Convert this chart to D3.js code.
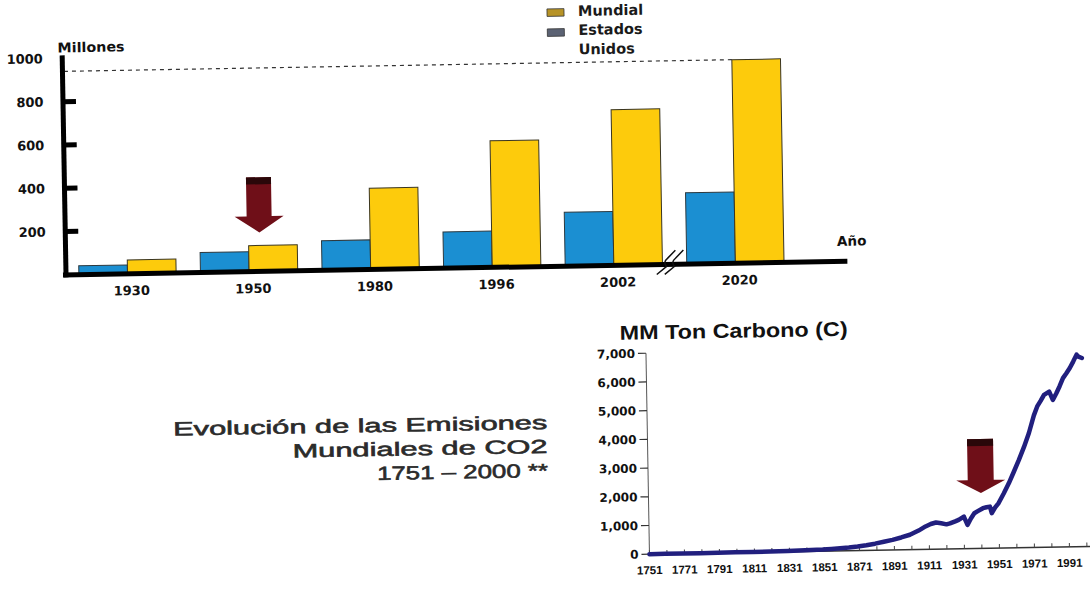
<!DOCTYPE html>
<html lang="es">
<head>
<meta charset="utf-8">
<title>Emisiones de CO2</title>
<script src="https://cdn.jsdelivr.net/npm/d3@7"></script>
<style>
  html, body { margin: 0; padding: 0; background: #ffffff; }
  svg { display: block; }
</style>
</head>
<body>
<svg id="chart" width="1090" height="598"></svg>
<script>
// ---- Bar chart data (millones) ----
const barYears = ["1930", "1950", "1980", "1996", "2002", "2020"];
const usaValues = [41, 92, 137, 168, 249, 329];
const worldValues = [64, 120, 376, 585, 719, 940];
const barTicks = [200, 400, 600, 800, 1000];
const seriesNames = ["Mundial", "Estados Unidos"];

// ---- Line chart data (MM Ton Carbono) ----
const co2Years = [1751, 1760, 1770, 1780, 1790, 1800, 1810, 1820, 1830, 1840,
  1850, 1855, 1860, 1865, 1870, 1875, 1880, 1885, 1890, 1895,
  1900, 1905, 1909, 1912, 1915, 1918, 1921, 1923, 1926, 1928,
  1931, 1933, 1935, 1937, 1939, 1942, 1944, 1946, 1947, 1949,
  1951, 1954, 1957, 1960, 1963, 1966, 1969, 1972, 1974, 1976,
  1978, 1981, 1983, 1985, 1987, 1989, 1991, 1993, 1995, 1997, 1998, 2000];
const co2Values = [3, 4, 5, 7, 9, 12, 16, 20, 28, 40,
  55, 70, 90, 110, 140, 180, 230, 290, 350, 430,
  520, 660, 800, 880, 930, 900, 860, 890, 960, 1010,
  1120, 830, 1050, 1230, 1300, 1400, 1430, 1450, 1220, 1420,
  1570, 1900, 2250, 2650, 3060, 3500, 3990, 4600, 4910, 5100,
  5310, 5420, 5130, 5350, 5600, 5880, 6050, 6230, 6450, 6690, 6620, 6570];
const co2YTicks = [0, 1000, 2000, 3000, 4000, 5000, 6000, 7000];
const co2XLabels = [1751, 1771, 1791, 1811, 1831, 1851, 1871, 1891, 1911, 1931, 1951, 1971, 1991];
const co2MinorTicks = d3.range(1751, 2002, 10);

const titleLines = ["Evolución de las Emisiones", "Mundiales de CO2", "1751 \u2013 2000 **"];

const BLUE = "#1b8fd2";
const YELLOW = "#fdcb0c";
const ARROW = "#6f0f18";
const NAVY = "#211f7e";
const BOLD_FONT = "'DejaVu Sans', Verdana, sans-serif";
const ARIAL = "'Liberation Sans', Arial, sans-serif";

const svg = d3.select("#chart");
const root = svg.append("g").attr("transform", "rotate(-1 545 299)");

// =================== Bar chart ===================
const x0 = d3.scaleBand().domain(barYears).range([66, 798]).paddingInner(0.2).paddingOuter(0.11);
const x1 = d3.scaleBand().domain(["usa", "world"]).range([0, x0.bandwidth()]);
const y = d3.scaleLinear().domain([0, 1000]).range([266.5, 50]);

const bars = root.append("g");
const groups = bars.selectAll("g.year").data(barYears).join("g")
  .attr("class", "year")
  .attr("transform", d => `translate(${x0(d)},0)`);

groups.append("rect")
  .attr("x", x1("usa")).attr("width", x1.bandwidth())
  .attr("y", (d, i) => y(usaValues[i]))
  .attr("height", (d, i) => y(0) - y(usaValues[i]))
  .attr("fill", BLUE).attr("stroke", "#2d3a40").attr("stroke-width", 1);

groups.append("rect")
  .attr("x", x1("world")).attr("width", x1.bandwidth())
  .attr("y", (d, i) => y(worldValues[i]))
  .attr("height", (d, i) => y(0) - y(worldValues[i]))
  .attr("fill", YELLOW).attr("stroke", "#3a3520").attr("stroke-width", 1);

// dashed reference line at the 2020 world value
const last = barYears.length - 1;
root.append("line")
  .attr("x1", 68).attr("x2", x0(barYears[last]) + x1("world"))
  .attr("y1", y(worldValues[last])).attr("y2", y(worldValues[last]))
  .attr("stroke", "#333").attr("stroke-width", 1.2).attr("stroke-dasharray", "4,4");

// heavy hand-drawn style axes
const axisX = 66.5;
root.append("line").attr("x1", axisX).attr("x2", axisX)
  .attr("y1", y(0) + 2.5).attr("y2", y(1000) - 3)
  .attr("stroke", "#000").attr("stroke-width", 5);
root.selectAll("line.tk").data(barTicks.filter(t => t < 1000)).join("line")
  .attr("class", "tk")
  .attr("x1", axisX).attr("x2", axisX + 13)
  .attr("y1", d => y(d)).attr("y2", d => y(d))
  .attr("stroke", "#000").attr("stroke-width", 5);
root.append("line").attr("x1", axisX - 3).attr("x2", 848)
  .attr("y1", y(0)).attr("y2", y(0))
  .attr("stroke", "#000").attr("stroke-width", 5);

root.selectAll("text.ytl").data(barTicks).join("text")
  .attr("class", "ytl")
  .attr("x", 47).attr("y", d => y(d)).attr("dy", "0.36em")
  .attr("text-anchor", "end")
  .attr("font-family", BOLD_FONT).attr("font-weight", "bold").attr("font-size", 13)
  .attr("fill", "#111").text(d => d);

root.selectAll("text.xtl").data(barYears).join("text")
  .attr("class", "xtl")
  .attr("x", d => x0(d) + x0.bandwidth() / 2 + 4).attr("y", 288)
  .attr("text-anchor", "middle")
  .attr("font-family", BOLD_FONT).attr("font-weight", "bold").attr("font-size", 13)
  .attr("fill", "#111").text(d => d);

root.append("text").attr("x", 62).attr("y", 44)
  .attr("font-family", BOLD_FONT).attr("font-weight", "bold").attr("font-size", 13.5)
  .attr("textLength", 67).attr("lengthAdjust", "spacingAndGlyphs")
  .attr("fill", "#111").text("Millones");

root.append("text").attr("x", 838).attr("y", 251)
  .attr("font-family", BOLD_FONT).attr("font-weight", "bold").attr("font-size", 13.5)
  .attr("fill", "#111").text("Año");

// axis break mark between the last two groups
const breakX = (x0(barYears[last - 1]) + x0.bandwidth() + x0(barYears[last])) / 2 - 2;
const breakY = y(0);
[-4, 4].forEach(off => {
  const bx = breakX + off;
  root.append("path")
    .attr("d", `M${bx - 12},${breakY + 10} L${bx - 2},${breakY + 2} Q${bx - 6},${breakY - 2} ${bx - 1},${breakY - 6} L${bx + 7},${breakY - 14}`)
    .attr("fill", "none").attr("stroke", "#111").attr("stroke-width", 1.5);
});

// legend
const legend = root.append("g").attr("transform", "translate(552,0)");
const legendColors = ["#b79326", "#5b6273"];
const legendRows = [[seriesNames[0]], ["Estados", "Unidos"]];
legend.selectAll("rect").data(legendColors).join("rect")
  .attr("x", 0).attr("y", (d, i) => 9 + i * 20).attr("width", 17).attr("height", 7.5)
  .attr("fill", d => d).attr("stroke", "#333").attr("stroke-width", 0.8);
const lines = [[legendRows[0][0], 16.5], [legendRows[1][0], 35.5], [legendRows[1][1], 55]];
legend.selectAll("text").data(lines).join("text")
  .attr("x", 31).attr("y", d => d[1])
  .attr("font-family", BOLD_FONT).attr("font-weight", "bold").attr("font-size", 14.5)
  .attr("fill", "#1a1a1a").text(d => d[0]);

// downward arrow marker
function arrow(g, cx, top, headTop, tip, shaftW, headW) {
  const p = d3.path();
  p.moveTo(cx - shaftW / 2, top);
  p.lineTo(cx + shaftW / 2, top);
  p.lineTo(cx + shaftW / 2, headTop);
  p.lineTo(cx + headW / 2, headTop);
  p.lineTo(cx, tip);
  p.lineTo(cx - headW / 2, headTop);
  p.lineTo(cx - shaftW / 2, headTop);
  p.closePath();
  g.append("path").attr("d", p.toString()).attr("fill", ARROW);
  g.append("rect").attr("x", cx - shaftW / 2).attr("y", top)
    .attr("width", shaftW).attr("height", 7).attr("fill", "#2a0709");
}
arrow(root, x0("1950") + x0.bandwidth() / 2 + 11, y(435), y(255), y(180), 25, 49);

// =================== Line chart ===================
const lx = d3.scaleLinear().domain([1751, 1991]).range([645, 1065]);
const ly = d3.scaleLinear().domain([0, 7000]).range([556, 355]);

const lineG = root.append("g");
lineG.append("line").attr("x1", lx(1751)).attr("x2", lx(1751))
  .attr("y1", ly(0)).attr("y2", ly(7000))
  .attr("stroke", "#555").attr("stroke-width", 1);
lineG.append("line").attr("x1", lx(1751)).attr("x2", 1092)
  .attr("y1", ly(0)).attr("y2", ly(0))
  .attr("stroke", "#333").attr("stroke-width", 1.4);

lineG.selectAll("line.ytk").data(co2YTicks).join("line")
  .attr("class", "ytk")
  .attr("x1", lx(1751) - 8).attr("x2", lx(1751))
  .attr("y1", d => ly(d)).attr("y2", d => ly(d))
  .attr("stroke", "#333").attr("stroke-width", 1.2);
lineG.selectAll("text.ylab").data(co2YTicks).join("text")
  .attr("class", "ylab")
  .attr("x", 634).attr("y", d => ly(d)).attr("dy", "0.36em")
  .attr("text-anchor", "end")
  .attr("font-family", BOLD_FONT).attr("font-weight", "bold").attr("font-size", 12)
  .attr("fill", "#111").text(d => d3.format(",")(d));

lineG.selectAll("line.xtk").data(co2MinorTicks).join("line")
  .attr("class", "xtk")
  .attr("x1", d => lx(d)).attr("x2", d => lx(d))
  .attr("y1", ly(0)).attr("y2", ly(0) - 4)
  .attr("stroke", "#444").attr("stroke-width", 1);
lineG.selectAll("text.xlab").data(co2XLabels).join("text")
  .attr("class", "xlab")
  .attr("x", d => lx(d)).attr("y", 576)
  .attr("text-anchor", "middle")
  .attr("font-family", ARIAL).attr("font-weight", "bold").attr("font-size", 11.5)
  .attr("fill", "#111").text(d => d);

const co2Line = d3.line().x((d, i) => lx(co2Years[i])).y(d => ly(d)).curve(d3.curveLinear);
lineG.append("path").datum(co2Values)
  .attr("d", co2Line)
  .attr("fill", "none").attr("stroke", NAVY).attr("stroke-width", 4.5)
  .attr("stroke-linejoin", "round").attr("stroke-linecap", "round");

lineG.append("text").attr("x", 619).attr("y", 341)
  .attr("font-family", ARIAL).attr("font-weight", "bold").attr("font-size", 20)
  .attr("textLength", 228).attr("lengthAdjust", "spacingAndGlyphs")
  .attr("fill", "#111").text("MM Ton Carbono (C)");

arrow(lineG, lx(1941), ly(3810), ly(2380), ly(1930), 26, 49);

// =================== Caption ===================
const captionWidths = [374, 255, 171];
const caption = root.append("g");
caption.selectAll("text").data(titleLines).join("text")
  .attr("x", 545).attr("y", (d, i) => 429 + i * 24)
  .attr("text-anchor", "end")
  .attr("font-family", ARIAL).attr("font-size", 19)
  .attr("textLength", (d, i) => captionWidths[i]).attr("lengthAdjust", "spacingAndGlyphs")
  .attr("fill", "#2b2b2b").attr("stroke", "#2b2b2b").attr("stroke-width", 0.6)
  .text(d => d);
</script>
</body>
</html>
